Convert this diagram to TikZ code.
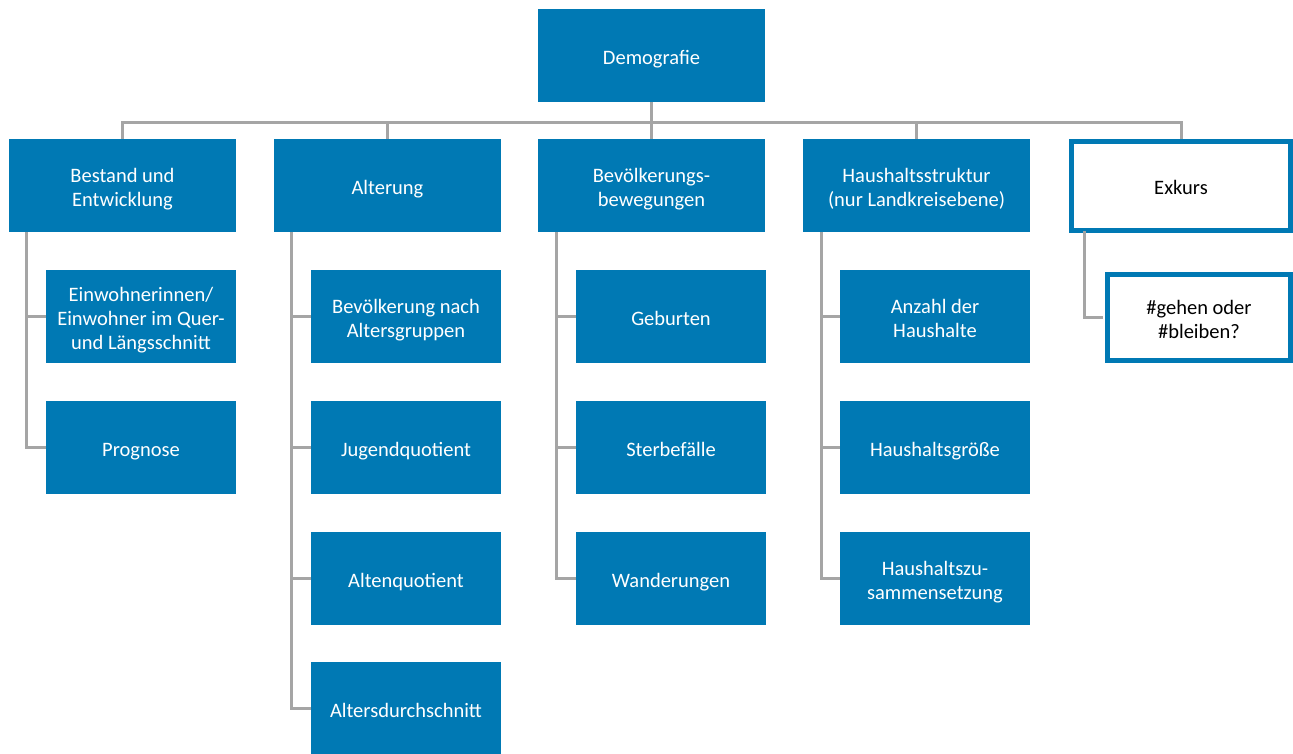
\documentclass[tikz,border=0pt]{standalone}
\usepackage{fontspec}
\setmainfont{Carlito}
\definecolor{boxblue}{RGB}{0,121,180}
\definecolor{linegray}{RGB}{165,165,165}
% centred label, set slightly below the middle of its box
\newcommand\boxtext[1]{\raisebox{0pt}[\dimexpr\height+8pt\relax][\depth]{\begin{tabular}{@{}c@{}}#1\end{tabular}}}
\begin{document}
\begin{tikzpicture}[x=1pt,y=-1pt,
  every node/.style={font=\fontsize{20.5}{24}\selectfont, inner sep=0pt},
  topbox/.style={fill=boxblue, text=white, minimum width=227pt, minimum height=93pt},
  subbox/.style={fill=boxblue, text=white, minimum width=190pt, minimum height=93pt},
  exbox/.style={draw=boxblue, line width=5pt, fill=white, text=black, minimum width=219pt, minimum height=89pt},
  exsub/.style={draw=boxblue, line width=5pt, fill=white, text=black, minimum width=183pt, minimum height=86pt},
  link/.style={draw=linegray, line width=3pt}]
\useasboundingbox (0,0) rectangle (1293,753);

% root
\node[topbox] (demo) at (651.5,55.5) {\boxtext{Demografie}};

% first level
\node[topbox] (b1) at (122.5,185.5) {\boxtext{Bestand und\\Entwicklung}};
\node[topbox] (b2) at (387.5,185.5) {\boxtext{Alterung}};
\node[topbox] (b3) at (651.5,185.5) {\boxtext{Bevölkerungs-\\bewegungen}};
\node[topbox] (b4) at (916.5,185.5) {\boxtext{Haushaltsstruktur\\(nur Landkreisebene)}};
\node[exbox]  (b5) at (1181,186) {\boxtext{Exkurs}};

% second level
\node[subbox] (c11) at (141,316.5) {\boxtext{Einwohnerinnen/\\Einwohner im Quer-\\und Längsschnitt}};
\node[subbox] (c12) at (141,447.5) {\boxtext{Prognose}};

\node[subbox] (c21) at (406,316.5) {\boxtext{Bevölkerung nach\\Altersgruppen}};
\node[subbox] (c22) at (406,447.5) {\boxtext{Jugendquotient}};
\node[subbox] (c23) at (406,578.5) {\boxtext{Altenquotient}};
\node[subbox] (c24) at (406,708.5) {\boxtext{Altersdurchschnitt}};

\node[subbox] (c31) at (671,316.5) {\boxtext{Geburten}};
\node[subbox] (c32) at (671,447.5) {\boxtext{Sterbefälle}};
\node[subbox] (c33) at (671,578.5) {\boxtext{Wanderungen}};

\node[subbox] (c41) at (935,316.5) {\boxtext{Anzahl der\\Haushalte}};
\node[subbox] (c42) at (935,447.5) {\boxtext{Haushaltsgröße}};
\node[subbox] (c43) at (935,578.5) {\boxtext{Haushaltszu-\\sammensetzung}};

\node[exsub] (c51) at (1199,317.5) {\boxtext{\#gehen oder\\\#bleiben?}};

% connectors from the root
\foreach \b in {b1,b2,b3,b4,b5}
  \draw[link] (demo.south) -- ++(0,20) -| (\b.north);

% connectors within each column
\foreach \c in {c11,c12}
  \draw[link] ([xshift=18pt]b1.south west) |- (\c.west);
\foreach \c in {c21,c22,c23,c24}
  \draw[link] ([xshift=18pt]b2.south west) |- (\c.west);
\foreach \c in {c31,c32,c33}
  \draw[link] ([xshift=19pt]b3.south west) |- (\c.west);
\foreach \c in {c41,c42,c43}
  \draw[link] ([xshift=19pt]b4.south west) |- (\c.west);
\draw[link] ([xshift=15pt,yshift=2.5pt]b5.south west) |- ([xshift=-2.5pt]c51.west);
\end{tikzpicture}
\end{document}
